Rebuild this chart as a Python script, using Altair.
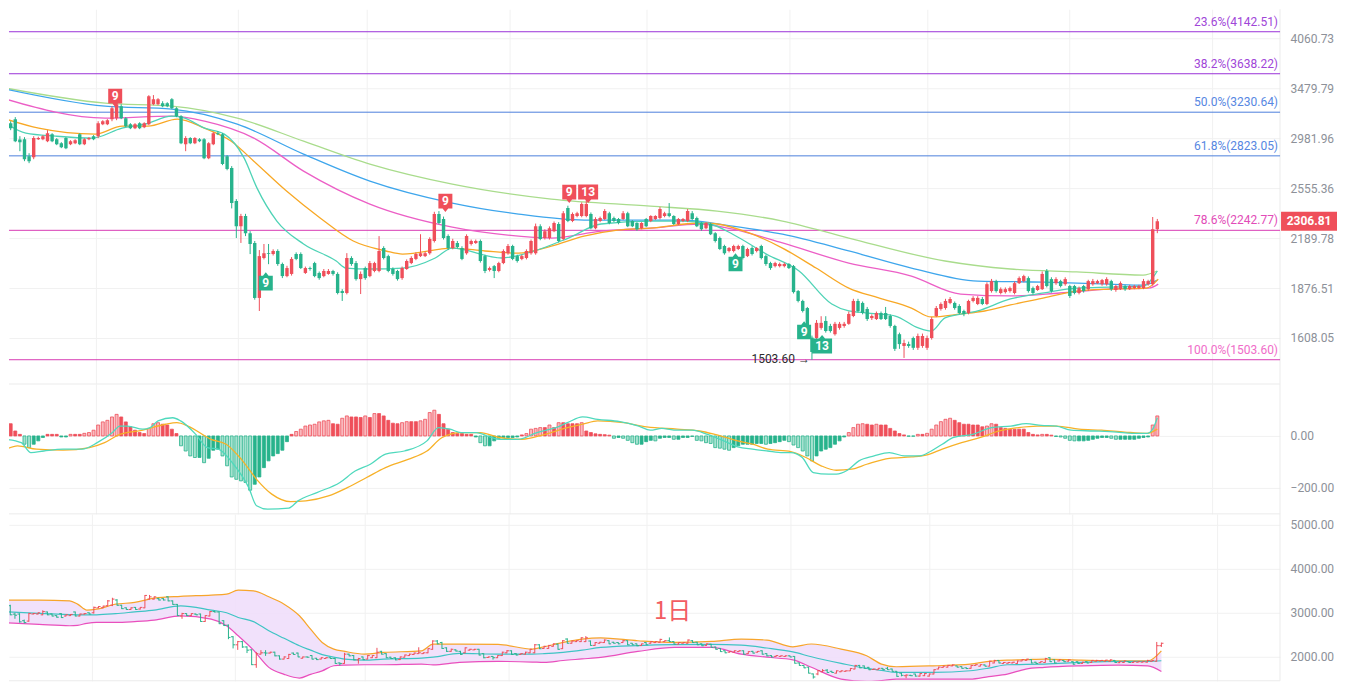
import altair as alt
import numpy as np
import pandas as pd

# ---------------- data ----------------
OPEN = [3075,3123,3162,2970,2972,2820,2811,2972,2972,2954,
        3019,2972,2936,2982,2927,2936,3019,2927,2972,3000,
        3000,3113,3113,3162,3172,3291,3172,3113,3075,3123,
        3085,3113,3311,3311,3322,3322,3363,3271,3191,2927,
        2982,2936,2972,2972,2803,2927,3028,3019,2820,2718,
        2455,2272,2344,2223,2157,1820,2059,2090,2084,2104,
        2021,1947,1960,2084,2084,1966,1996,2027,1966,1947,
        1960,1978,1960,1859,1848,2059,2027,1929,1996,1947,
        1978,1978,2123,2071,1990,1978,1935,1990,2027,2053,
        2071,2071,2090,2170,2358,2323,2203,2123,2157,2123,
        2090,2150,2157,2170,2071,1984,2008,1978,2027,2090,
        2136,2071,2053,2059,2090,2090,2272,2190,2190,2237,
        2287,2183,2403,2308,2344,2344,2344,2358,2258,2308,
        2323,2365,2330,2323,2323,2365,2308,2294,2258,2323,
        2308,2323,2330,2344,2365,2344,2287,2308,2308,2365,
        2330,2294,2258,2287,2223,2190,2136,2104,2104,2117,
        2136,2071,2123,2104,2136,2071,2027,2008,2008,2008,
        2021,2008,1859,1803,1764,1610,1608,1659,1695,1669,
        1627,1659,1669,1680,1721,1803,1792,1759,1710,1705,
        1737,1737,1721,1669,1627,1569,1578,1608,1560,1569,
        1560,1608,1721,1759,1764,1792,1792,1775,1748,1737,
        1803,1786,1814,1786,1859,1917,1848,1853,1859,1848,
        1905,1917,1935,1876,1865,1870,1978,1929,1905,1917,
        1899,1888,1888,1848,1888,1870,1899,1905,1899,1899,
        1917,1865,1870,1888,1870,1876,1876,1876,1899,1899,
        2251]
HIGH = [3152,3142,3182,3000,2991,2846,3000,2995,3010,3056,
        3028,2982,2945,2991,2963,2972,3028,2982,2991,3010,
        3142,3152,3162,3291,3342,3311,3182,3123,3123,3132,
        3132,3405,3406,3374,3342,3332,3374,3281,3201,3000,
        2991,2991,2982,2982,2945,3038,3047,3028,2830,2735,
        2470,2360,2360,2237,2170,2110,2150,2150,2115,2115,
        2030,2010,2065,2095,2095,2005,2005,2035,1975,1990,
        1990,1985,1970,1870,2090,2070,2040,1975,2005,2040,
        2035,2203,2135,2080,2000,1985,2005,2050,2070,2095,
        2216,2100,2195,2375,2380,2340,2215,2185,2170,2135,
        2215,2180,2180,2180,2080,2005,2015,2035,2115,2150,
        2145,2080,2080,2115,2180,2290,2285,2250,2270,2305,
        2300,2380,2420,2370,2375,2445,2470,2370,2335,2340,
        2395,2375,2340,2330,2380,2375,2315,2300,2300,2330,
        2350,2350,2410,2375,2440,2350,2330,2330,2395,2380,
        2340,2300,2300,2295,2230,2200,2145,2130,2145,2145,
        2145,2125,2135,2130,2145,2080,2035,2035,2030,2030,
        2027,2015,1865,1810,1770,1620,1700,1720,1720,1680,
        1690,1690,1690,1745,1815,1815,1800,1770,1730,1745,
        1745,1770,1730,1675,1635,1600,1590,1615,1630,1630,
        1620,1715,1775,1795,1815,1825,1800,1785,1755,1810,
        1830,1830,1825,1910,1930,1925,1880,1880,1885,1915,
        1945,1955,1945,1885,1895,1975,1990,1940,1940,1925,
        1940,1895,1895,1885,1895,1925,1930,1925,1930,1940,
        1925,1895,1915,1895,1895,1895,1895,1930,1925,2337,
        2323]
LOW = [3056,3056,2945,2864,2777,2760,2794,2965,2963,2945,
       2945,2918,2891,2882,2918,2927,2918,2918,2963,2963,
       2982,3104,3104,3142,3152,3162,3085,3066,3066,3066,
       3075,3104,3301,3301,3281,3281,3261,3182,2927,2864,
       2927,2927,2945,2794,2794,2918,3010,2743,2700,2400,
       2190,2157,2203,2084,1810,1748,2050,2020,2075,2010,
       1935,1940,1950,2045,1990,1960,1980,1940,1925,1940,
       1955,1950,1840,1803,1840,2010,1920,1842,1925,1940,
       1970,1970,2050,1970,1950,1920,1925,1985,2020,2045,
       2065,2065,2080,2160,2285,2180,2110,2115,2120,2045,
       2080,2140,2150,2030,1965,1975,1935,1970,2020,2080,
       2045,2030,2045,2050,2080,2080,2175,2180,2180,2230,
       2160,2175,2300,2300,2335,2335,2335,2250,2250,2300,
       2315,2285,2300,2285,2315,2265,2265,2240,2250,2265,
       2300,2315,2320,2335,2335,2280,2280,2300,2300,2315,
       2265,2240,2250,2210,2160,2110,2080,2095,2095,2110,
       2050,2065,2075,2095,2050,2010,1985,2000,2000,2000,
       1990,1845,1795,1740,1620,1503.6,1580,1650,1635,1635,
       1620,1650,1660,1675,1715,1740,1730,1695,1700,1700,
       1700,1700,1660,1545,1555,1512,1560,1550,1550,1560,
       1550,1600,1715,1750,1755,1785,1755,1730,1720,1730,
       1795,1780,1780,1780,1850,1850,1840,1845,1850,1840,
       1900,1910,1850,1840,1860,1865,1880,1850,1895,1880,
       1890,1820,1840,1840,1850,1860,1890,1900,1890,1890,
       1860,1855,1865,1860,1865,1870,1870,1870,1890,1890,
       2223]
CLOSE = [3123,3075,2954,2945,2794,2777,2982,2982,3000,3028,
         2954,2927,2900,2891,2954,2963,2927,2972,2982,2972,
         3123,3142,3152,3271,3311,3172,3094,3075,3113,3075,
         3123,3395,3363,3363,3291,3291,3271,3191,2936,2982,
         2936,2982,2954,2803,2936,3028,3019,2752,2710,2440,
         2272,2344,2223,2150,1820,2071,2090,2084,2104,2021,
         1947,1996,2053,2053,1996,1996,1990,1947,1935,1978,
         1978,1960,1848,1848,2059,2021,1929,1960,1935,2027,
         2027,2104,2059,1978,1960,1929,1996,2040,2059,2084,
         2090,2090,2183,2358,2294,2190,2123,2170,2130,2053,
         2203,2170,2170,2040,1978,1996,1978,2027,2104,2136,
         2053,2040,2071,2104,2170,2272,2183,2237,2258,2294,
         2170,2365,2308,2358,2365,2432,2432,2258,2323,2330,
         2380,2294,2308,2294,2365,2272,2272,2251,2294,2272,
         2344,2344,2395,2365,2344,2287,2323,2323,2380,2323,
         2272,2251,2294,2216,2170,2117,2090,2123,2136,2136,
         2059,2117,2084,2123,2059,2021,1996,2027,2021,2021,
         1996,1853,1803,1748,1627,1540,1685,1685,1643,1643,
         1680,1680,1680,1732,1803,1748,1737,1705,1721,1737,
         1705,1705,1669,1555,1578,1583,1569,1560,1618,1618,
         1608,1705,1764,1786,1803,1814,1764,1737,1732,1803,
         1820,1820,1786,1899,1917,1859,1870,1870,1876,1905,
         1935,1947,1859,1848,1888,1960,1888,1859,1929,1888,
         1929,1831,1848,1876,1859,1917,1917,1917,1923,1929,
         1870,1888,1905,1870,1888,1888,1888,1917,1917,2251,
         2306.81]

# moving averages (candle index, price)
TEAL_X = [0,4.3,10.8,18.7,25.2,30.1,36,38.8,43.1,47.4,51.7,54.5,58.8,64.6,71.7,73.8,79,86.1,93.2,96.9,
          107.6,114.7,122.1,129.2,139.9,147,152.9,157.8,165.1,172.2,179.3,183,189.5,193.1,198.1,200.9,
          203.9,211,218.1,225.4,232.5,239.6,246.9,250]
TEAL_Y = [3123,3028,3000,2982,3075,3113,3191,3172,3075,3019,2803,2555,2308,2150,2040,1996,1990,1996,2059,2123,
          2059,2104,2190,2287,2308,2308,2287,2216,2084,1978,1786,1748,1732,1721,1659,1643,
          1711,1748,1814,1848,1876,1882,1888,1978]
ORANGE_X = [0,7.1,19.4,25.2,30.8,37.2,43.1,48.9,53.8,60.9,68.2,75.4,82.5,86.1,96.9,104,111.3,118.4,125.5,132.8,
            139.9,150.7,154.4,161.5,168.6,175.9,183,189.5,196.6,200.9,207.3,212.5,218.1,225.4,232.5,239.6,247.6,250.2]
ORANGE_Y = [3162,3075,3019,3094,3094,3162,3075,2954,2777,2532,2330,2170,2104,2084,2123,2104,2090,2136,2203,2244,
            2258,2294,2287,2223,2123,1996,1876,1820,1764,1716,1732,1748,1781,1820,1859,1870,1876,1929]
PINK_X = [0,21.5,36,43.1,53.8,64.6,79,96.9,111.3,118.4,129.2,139.9,150.7,157.8,168.6,183,196.6,207.3,218.1,228.8,239.6,248.2,250.2]
PINK_Y = [3363,3172,3191,3142,2982,2693,2432,2265,2203,2190,2237,2258,2287,2251,2157,2027,1947,1842,1831,1848,1870,1876,1899]
BLUE_X = [0,21.5,36,50.2,64.6,79,96.9,111.3,125.5,147,157.8,168.6,183,196.6,211,225.4,239.6,246.9,250]
BLUE_Y = [3468,3291,3261,3113,2838,2611,2440,2358,2315,2315,2272,2216,2104,1996,1917,1911,1899,1893,1923]
LGREEN_X = [0,21.5,36,50.2,64.6,79,96.9,118.4,139.9,154.4,168.6,183,203.9,218.1,232.5,246.9,250]
LGREEN_Y = [3480,3322,3291,3172,2954,2752,2587,2470,2417,2380,2308,2190,2040,1990,1972,1953,1978]

# Fibonacci levels
FIB_PRICE = [4142.51, 3638.22, 3230.64, 2823.05, 2242.77, 1503.60]
FIB_LABEL = ["23.6%(4142.51)", "38.2%(3638.22)", "50.0%(3230.64)", "61.8%(2823.05)", "78.6%(2242.77)", "100.0%(1503.60)"]

PRICE_TICKS = [4060.73, 3479.79, 2981.96, 2555.36, 2189.78, 1876.51, 1608.05]
MACD_TICKS = [0, -200]
BOT_TICKS = [2000, 3000, 4000, 5000]
GRID_X = [19.6, 50.4, 78.4, 109.4, 139.1, 170.1, 200.0, 230.8, 262.0]

# TD sequential markers
SIG_UP_X = [23.7, 95.4, 122.3, 126.4]
SIG_UP_Y = [3395, 2455, 2524, 2524]
SIG_UP_T = ["9", "9", "9", "13"]
SIG_DN_X = [56.4, 158.4, 173.3, 177.2]
SIG_DN_Y = [1905, 2021, 1638, 1569]
SIG_DN_T = ["9", "9", "9", "13"]

LAST_PRICE = 2306.81
LOW_IDX = 175
LOW_PRICE = 1503.60

# MACD
HIST = [70,47,19,6,-32,-45,-32,-19,-6,6,
        6,6,-4,-4,6,6,6,10,13,22,
        42,54,60,73,83,73,54,35,22,13,
        9,29,47,51,45,42,26,9,-38,-58,
        -77,-83,-83,-103,-86,-55,-51,-77,-115,-158,
        -167,-173,-179,-209,-186,-158,-122,-96,-77,-68,
        -55,-22,6,17,26,38,42,45,54,58,
        60,47,45,68,77,73,73,71,77,71,
        86,86,77,60,49,47,51,55,55,55,
        58,64,90,99,83,47,26,13,9,9,
        6,6,-4,-26,-38,-38,-19,-9,-6,-6,
        -6,-4,4,9,26,29,32,32,42,32,
        51,51,47,47,47,51,19,13,8,6,
        5,3,-9,-6,-9,-17,-26,-32,-32,-22,
        -17,-19,-9,-6,-6,-13,-13,-6,-6,-2,
        -17,-19,-26,-29,-45,-47,-51,-55,-45,-38,
        -32,-32,-32,-29,-29,-32,-29,-26,-22,-17,
        -22,-35,-45,-58,-77,-96,-77,-58,-51,-45,
        -32,-19,-4,13,32,45,47,45,42,45,
        42,42,29,19,9,4,-1,-1,6,6,
        10,26,42,55,64,68,60,51,45,45,
        42,42,35,38,47,45,32,29,26,26,
        26,26,13,6,4,6,6,3,-2,-4,
        -9,-17,-19,-19,-19,-17,-13,-9,-6,-6,
        -9,-13,-13,-13,-13,-13,-9,-6,-4,42,
        77]
DIF_X = [0,3.3,5.4,8.2,12.4,16.5,19.8,23.1,24.7,26.4,29.7,31.3,33,36.2,37.9,41.2,43.7,46.1,49.4,52.7,
         54.4,56.8,61.4,63.4,67.5,72.5,75.8,79.1,82.4,86.5,91.4,93.9,96.4,98.8,102.1,105.4,107.1,111.2,115.3,119.4,
         121.9,125.2,128.5,133.3,137.4,139.9,142.4,145.7,149,152.3,155.6,158.9,162.1,165.4,168.7,170.4,172.9,175.3,178.6,180.3,
         182.7,185.2,188.5,191.8,195.1,198.4,200.9,203.3,205.8,209.9,214,218.2,221.5,224.8,228.1,231.3,236.3,241.2,244.5,247.8,
         249,250]
DIF_Y = [-13,-26,-64,-58,-51,-51,-26,13,38,38,26,32,58,70,58,6,-45,-51,-109,-199,
         -269,-282,-278,-250,-218,-179,-135,-109,-70,-58,-19,32,26,13,13,-6,-13,-13,13,32,
         51,73,64,55,38,22,29,22,22,6,-17,-42,-51,-58,-64,-64,-83,-141,-147,-147,
         -132,-96,-77,-64,-77,-77,-58,-32,-6,6,32,38,47,41,38,22,19,15,10,10,
         26,70]
DEA_X = [0,2.5,6.6,12.4,18.1,21.4,24.7,29.7,34.6,37.1,39.5,44.5,47.8,51.1,54.4,57.7,61.8,65.1,70,74.1,
         78.3,82.4,87.3,91.4,94.7,98.8,103,107.1,112,117,121.9,125.2,128.5,134.1,139.1,145.7,150.6,153.9,158.9,162.1,
         165.4,170.4,173.7,177,180.3,183.6,186.9,191.8,196.7,200,203.3,207.5,211.6,215.7,219.8,223.9,228.1,233,237.9,242.9,
         247.8,250]
DEA_Y = [-51,-38,-51,-55,-45,-26,6,22,45,51,38,-13,-32,-90,-167,-224,-253,-250,-231,-199,
         -160,-122,-90,-58,-6,13,13,-6,-13,6,32,45,58,51,35,26,19,6,-19,-32,
         -51,-60,-83,-115,-132,-128,-109,-86,-81,-73,-51,-26,-6,19,32,38,38,26,22,15,
         10,26]

# Bollinger bands (bottom panel)
BB_X = [0,8.2,14.8,16.5,18.5,20.6,24.7,28.8,33,38.7,45.3,48.6,51.1,54.4,57.7,61,64.3,66.7,69.2,71.7,
        74.1,78.3,82.4,90.6,93.1,98.8,107.1,114.5,117,121.1,125.2,129.2,137.2,145.1,153.1,159.5,165,170.6,174.6,181,
        186.5,189.7,192.9,200.9,208.8,212.8,216.8,220.8,224.8,232.7,240.7,247.1,250]
BB_UP = [3289,3289,3273,3197,3061,3083,3197,3235,3333,3375,3402,3424,3515,3500,3364,3197,2932,2629,2326,2174,
         2121,2061,2098,2136,2288,2288,2280,2174,2227,2326,2402,2430,2364,2326,2349,2402,2379,2227,2290,2174,
         2023,1833,1773,1795,1833,1894,1924,1935,1947,1924,1909,1909,2136]
BB_MID = [3030,2985,2960,2955,2955,2955,2980,3020,3061,3159,3061,3000,2894,2800,2591,2420,2250,2150,2050,1990,
          1947,1924,1947,1970,1990,2076,2061,2061,2070,2100,2150,2212,2255,2275,2280,2265,2200,2110,2000,1850,
          1735,1690,1644,1644,1682,1742,1818,1825,1833,1871,1894,1894,1909]
BB_LOW = [2780,2735,2705,2715,2760,2780,2780,2800,2833,2932,2856,2705,2477,2150,1758,1600,1515,1600,1680,1795,
          1810,1818,1818,1833,1815,1871,1894,1880,1871,1915,1950,1985,2121,2212,2212,2060,1990,1930,1760,1492,
          1440,1460,1492,1492,1492,1550,1606,1720,1758,1795,1811,1795,1667]

PERIOD_LABEL = "1日"
PERIOD_X = 144.7
PERIOD_Y = 3023

# ---------------- styles ----------------
RED = "#ef4f5a"
GREEN = "#27b38c"
RED_LIGHT = "#f9b9be"
GREEN_LIGHT = "#a5e2cf"
C_TEAL = "#4fd3b6"
C_ORANGE = "#f8a825"
C_PINK = "#ec5fc6"
C_BLUE = "#3ea6ec"
C_LGREEN = "#a9dc8c"
FIB_LINE_COL = ["#9a32d8", "#9a32d8", "#4c7fdc", "#4c7fdc", "#d83cb4", "#d83cb4"]
FIB_TEXT_COL = ["#a046d8", "#a046d8", "#5787e2", "#5787e2", "#e24cb8", "#f06dc9"]
GRID = "#f1f1f1"
LABEL = "#8d9199"

PX = 4.645
W = 1272
H_MAIN, H_MACD, H_BOT = 375, 130, 167
XS = alt.Scale(domain=[8 / PX, 1280 / PX], nice=False, zero=False)
XAX = alt.Axis(values=GRID_X, grid=True, gridColor=GRID, labels=False, ticks=False, domain=False, title=None)

Y_MAIN = alt.Scale(type="log", domain=[1395.1, 4440.5], nice=False, zero=False)
Y_MACD = alt.Scale(domain=[-300, 200], nice=False, zero=False)
Y_BOT = alt.Scale(domain=[1454.5, 5250], nice=False, zero=False)


def yaxis(vals):
    return alt.Axis(orient="right", values=vals, format=".2f", grid=True, gridColor=GRID, ticks=False,
                    domain=False, labelColor=LABEL, labelFontSize=12, labelPadding=10, title=None,
                    labelFont="Roboto")


YAX_MAIN = yaxis(PRICE_TICKS)
YAX_MACD = yaxis(MACD_TICKS)
YAX_BOT = yaxis(BOT_TICKS)


def X(field="i"):
    return alt.X(f"{field}:Q", scale=XS, axis=XAX)


def line(xs, ys, color, ys_scale, yax, width=1.3):
    df = pd.DataFrame({"i": xs, "v": ys})
    return alt.Chart(df).mark_line(color=color, strokeWidth=width, interpolate="monotone", clip=True).encode(
        x=X(), y=alt.Y("v:Q", scale=ys_scale, axis=yax))


def frame(h):
    d = pd.DataFrame({"k": [0]})
    right = alt.Chart(d).mark_rule(color="#ebebeb", strokeWidth=1).encode(
        x=alt.value(W), y=alt.value(0), y2=alt.value(h))
    bottom = alt.Chart(d).mark_rule(color="#ebebeb", strokeWidth=1).encode(
        x=alt.value(0), x2=alt.value(W), y=alt.value(h))
    return [right, bottom]


# ---------------- candles ----------------
n = min(len(OPEN), len(HIGH), len(LOW), len(CLOSE))
cd = pd.DataFrame({"i": np.arange(n), "o": OPEN[:n], "h": HIGH[:n], "l": LOW[:n], "c": CLOSE[:n]})
cd["dir"] = np.where(cd["c"] >= cd["o"], "up", "down")
cd["il"] = cd["i"] - 0.45
cd["ir"] = cd["i"] + 0.45
COL = alt.Color("dir:N", scale=alt.Scale(domain=["up", "down"], range=[RED, GREEN]), legend=None)

wick = alt.Chart(cd).mark_rule(strokeWidth=1, clip=True).encode(
    x=X(), y=alt.Y("l:Q", scale=Y_MAIN, axis=YAX_MAIN), y2="h:Q", color=COL)
body = alt.Chart(cd).mark_bar(size=3.4, clip=True).encode(
    x=X(), y=alt.Y("o:Q", scale=Y_MAIN, axis=YAX_MAIN), y2="c:Q", color=COL)

mas = [line(LGREEN_X, LGREEN_Y, C_LGREEN, Y_MAIN, YAX_MAIN),
       line(BLUE_X, BLUE_Y, C_BLUE, Y_MAIN, YAX_MAIN),
       line(PINK_X, PINK_Y, C_PINK, Y_MAIN, YAX_MAIN),
       line(ORANGE_X, ORANGE_Y, C_ORANGE, Y_MAIN, YAX_MAIN),
       line(TEAL_X, TEAL_Y, C_TEAL, Y_MAIN, YAX_MAIN)]

fd = pd.DataFrame({"p": FIB_PRICE, "t": FIB_LABEL, "lc": FIB_LINE_COL, "tc": FIB_TEXT_COL})
fib_rule = alt.Chart(fd).mark_rule(strokeWidth=1).encode(
    x=alt.value(0), x2=alt.value(W), y=alt.Y("p:Q", scale=Y_MAIN, axis=YAX_MAIN),
    color=alt.Color("lc:N", scale=None))
fib_text = alt.Chart(fd).mark_text(align="right", baseline="middle", dy=-10, fontSize=12, font="Roboto").encode(
    x=alt.value(W - 2), y=alt.Y("p:Q", scale=Y_MAIN, axis=YAX_MAIN), text="t:N",
    color=alt.Color("tc:N", scale=None))

# markers
UP9 = "M-1,-1.05L1,-1.05L1,1.05L0.4,1.05L0,1.55L-0.4,1.05L-1,1.05Z"
UP13 = "M-1,-0.75L1,-0.75L1,0.75L0.3,0.75L0,1.1L-0.3,0.75L-1,0.75Z"
DN9 = "M-1,1.05L1,1.05L1,-1.05L0.4,-1.05L0,-1.55L-0.4,-1.05L-1,-1.05Z"
DN13 = "M-1,0.75L1,0.75L1,-0.75L0.3,-0.75L0,-1.1L-0.3,-0.75L-1,-0.75Z"
sd_up = pd.DataFrame({"i": SIG_UP_X, "p": SIG_UP_Y, "t": SIG_UP_T})
sd_up["shp"] = [UP13 if len(t) > 1 else UP9 for t in SIG_UP_T]
sd_up["fc"] = RED
sd_dn = pd.DataFrame({"i": SIG_DN_X, "p": SIG_DN_Y, "t": SIG_DN_T})
sd_dn["shp"] = [DN13 if len(t) > 1 else DN9 for t in SIG_DN_T]
sd_dn["fc"] = GREEN
sd = pd.concat([sd_up, sd_dn], ignore_index=True)
sd["sz"] = [400 if len(t) > 1 else 196 for t in sd["t"]]
sig_box = alt.Chart(sd).mark_point(filled=True, opacity=1, strokeWidth=0, clip=True).encode(
    x=X(), y=alt.Y("p:Q", scale=Y_MAIN, axis=YAX_MAIN),
    shape=alt.Shape("shp:N", scale=None), size=alt.Size("sz:Q", scale=None),
    color=alt.Color("fc:N", scale=None))
sig_txt = alt.Chart(sd).mark_text(color="white", fontSize=12, fontWeight="bold", baseline="middle",
                                  font="Roboto").encode(
    x=X(), y=alt.Y("p:Q", scale=Y_MAIN, axis=YAX_MAIN), text="t:N")

low_txt = alt.Chart(pd.DataFrame({"i": [LOW_IDX], "p": [LOW_PRICE], "t": [f"{LOW_PRICE:.2f} →"]})).mark_text(
    align="right", baseline="middle", dx=-2, dy=-1, fontSize=12, color="#2b2b2b", font="Roboto").encode(
    x=X(), y=alt.Y("p:Q", scale=Y_MAIN, axis=YAX_MAIN), text="t:N")

TAG = "M-1,-0.34L1,-0.34L1,0.34L-1,0.34Z"
tagd = pd.DataFrame({"p": [LAST_PRICE], "t": [f"{LAST_PRICE:.2f}"]})
tag = alt.Chart(tagd).mark_point(shape=TAG, size=3136, filled=True, opacity=1, strokeWidth=0,
                                 color=RED, clip=False).encode(
    x=alt.value(W + 29), y=alt.Y("p:Q", scale=Y_MAIN, axis=YAX_MAIN))
tag_txt = alt.Chart(tagd).mark_text(color="white", fontSize=12, fontWeight="bold", baseline="middle",
                                    font="Roboto", clip=False).encode(
    x=alt.value(W + 29), y=alt.Y("p:Q", scale=Y_MAIN, axis=YAX_MAIN), text="t:N")

main = alt.layer(*frame(H_MAIN), fib_rule, *mas, wick, body, sig_box, sig_txt, fib_text, low_txt,
                 tag, tag_txt).properties(width=W, height=H_MAIN)

# ---------------- MACD ----------------
h = np.array(HIST[:n], dtype=float)
prev = np.concatenate([[0.0], h[:-1]])
grow = np.abs(h) > np.abs(prev)
hd = pd.DataFrame({"i": np.arange(len(h)), "h": h, "z": 0.0})
hd["fc"] = np.where(h >= 0, np.where(grow, RED_LIGHT, RED), np.where(grow, GREEN_LIGHT, GREEN))
hd["sc"] = np.where(h >= 0, RED, GREEN)
bars = alt.Chart(hd).mark_bar(size=3.0, strokeWidth=0.8, clip=True).encode(
    x=X(), y=alt.Y("h:Q", scale=Y_MACD, axis=YAX_MACD), y2="z:Q",
    fill=alt.Fill("fc:N", scale=None), stroke=alt.Stroke("sc:N", scale=None))
macd = alt.layer(*frame(H_MACD), bars,
                 line(DEA_X, DEA_Y, "#f7b128", Y_MACD, YAX_MACD),
                 line(DIF_X, DIF_Y, "#4fd9bd", Y_MACD, YAX_MACD)).properties(width=W, height=H_MACD)

# ---------------- bottom panel ----------------
bbd = pd.DataFrame({"i": BB_X, "u": BB_UP, "m": BB_MID, "lo": BB_LOW})
band = alt.Chart(bbd).mark_area(color="#efdcfa", opacity=0.85, interpolate="monotone", clip=True).encode(
    x=X(), y=alt.Y("u:Q", scale=Y_BOT, axis=YAX_BOT), y2="lo:Q")
ohlc_v = alt.Chart(cd).mark_rule(strokeWidth=1, clip=True).encode(
    x=X(), y=alt.Y("l:Q", scale=Y_BOT, axis=YAX_BOT), y2="h:Q", color=COL)
ohlc_o = alt.Chart(cd).mark_rule(strokeWidth=1, clip=True).encode(
    x=X("il"), x2="i:Q", y=alt.Y("o:Q", scale=Y_BOT, axis=YAX_BOT), color=COL)
ohlc_c = alt.Chart(cd).mark_rule(strokeWidth=1, clip=True).encode(
    x=X(), x2="ir:Q", y=alt.Y("c:Q", scale=Y_BOT, axis=YAX_BOT), color=COL)
period = alt.Chart(pd.DataFrame({"i": [PERIOD_X], "p": [PERIOD_Y], "t": [PERIOD_LABEL]})).mark_text(
    fontSize=24, color="#f25c62", font="Noto Sans CJK SC", baseline="middle", align="center").encode(
    x=X(), y=alt.Y("p:Q", scale=Y_BOT, axis=YAX_BOT), text="t:N")
bottom = alt.layer(*frame(H_BOT), band,
                   alt.Chart(bbd).mark_line(color="#f7a52b", strokeWidth=1.2, interpolate="monotone", clip=True).encode(
                       x=X(), y=alt.Y("u:Q", scale=Y_BOT, axis=YAX_BOT)),
                   alt.Chart(bbd).mark_line(color="#3ec4c4", strokeWidth=1.2, interpolate="monotone", clip=True).encode(
                       x=X(), y=alt.Y("m:Q", scale=Y_BOT, axis=YAX_BOT)),
                   alt.Chart(bbd).mark_line(color="#e94fbd", strokeWidth=1.2, interpolate="monotone", clip=True).encode(
                       x=X(), y=alt.Y("lo:Q", scale=Y_BOT, axis=YAX_BOT)),
                   ohlc_v, ohlc_o, ohlc_c, period).properties(width=W, height=H_BOT)

chart = alt.vconcat(main, macd, bottom, spacing=0, bounds="flush").properties(padding=0).configure(
    font="Roboto").configure_view(strokeWidth=0)

chart.save("out.html", embed_options={"renderer": "svg", "actions": False})
